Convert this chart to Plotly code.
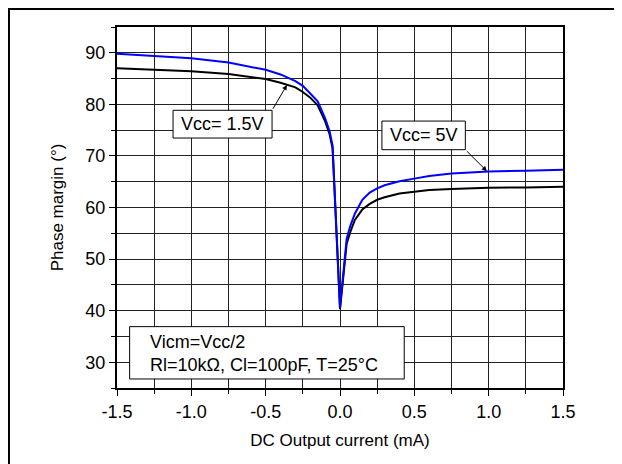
import plotly.graph_objects as go

# DC output current (mA)
x_vals = [-1.5, -1.25, -1.0, -0.75, -0.5, -0.4, -0.3, -0.25, -0.2, -0.15, -0.1, -0.07, -0.05, 0.0,
          0.045, 0.07, 0.1, 0.15, 0.2, 0.25, 0.3, 0.4, 0.5, 0.6, 0.75, 1.0, 1.25, 1.5]

# Phase margin (deg), Vcc = 1.5V (black)
pm_vcc_1v5 = [87.0, 86.7, 86.4, 85.9, 84.9, 84.2, 83.3, 82.4, 81.3, 79.8, 76.7, 74.2, 71.5, 40.3,
              53.0, 55.3, 57.6, 59.6, 60.7, 61.5, 62.0, 62.7, 63.1, 63.4, 63.6, 63.85, 63.9, 64.0]

# Phase margin (deg), Vcc = 5V (blue)
pm_vcc_5v = [89.8, 89.4, 88.95, 88.1, 86.7, 85.8, 84.5, 83.6, 82.2, 80.6, 77.3, 74.8, 72.0, 40.6,
             54.0, 56.5, 58.8, 61.5, 62.9, 63.7, 64.3, 65.1, 65.6, 66.1, 66.6, 67.0, 67.15, 67.3]

x_ticks = [-1.5, -1.0, -0.5, 0.0, 0.5, 1.0, 1.5]
y_ticks = [30, 40, 50, 60, 70, 80, 90]

FONT = "Arial, Liberation Sans, sans-serif"

fig = go.Figure()
fig.add_trace(go.Scatter(x=x_vals, y=pm_vcc_1v5, mode="lines",
                         line=dict(color="black", width=2), name="Vcc= 1.5V"))
fig.add_trace(go.Scatter(x=x_vals, y=pm_vcc_5v, mode="lines",
                         line=dict(color="#0000ff", width=2), name="Vcc= 5V"))

grid_col = "#222222"
fig.update_xaxes(range=[-1.5, 1.5], tickvals=x_ticks, ticktext=[f"{v:.1f}" for v in x_ticks],
                 showgrid=True, gridcolor=grid_col, gridwidth=1,
                 minor=dict(dtick=0.25, tick0=-1.5, showgrid=True, gridcolor=grid_col, gridwidth=1,
                            ticks="outside", ticklen=4, tickcolor="black"),
                 ticks="outside", ticklen=6, tickcolor="black",
                 showline=True, linecolor="black", linewidth=2, mirror=True,
                 zeroline=False,
                 tickfont=dict(family=FONT, size=18, color="black"),
                 title=dict(text="DC Output current (mA)", font=dict(family=FONT, size=17, color="black"),
                            standoff=14))
fig.update_yaxes(range=[25, 95], tickvals=y_ticks,
                 showgrid=True, gridcolor=grid_col, gridwidth=1,
                 minor=dict(dtick=5, tick0=25, showgrid=True, gridcolor=grid_col, gridwidth=1,
                            ticks="outside", ticklen=4, tickcolor="black"),
                 ticks="outside", ticklen=6, tickcolor="black",
                 showline=True, linecolor="black", linewidth=2, mirror=True,
                 zeroline=False,
                 tickfont=dict(family=FONT, size=18, color="black"),
                 title=dict(text="Phase margin (°)", font=dict(family=FONT, size=17, color="black"),
                            standoff=17))

shapes = [
    # outer frame
    dict(type="rect", xref="paper", yref="paper", x0=-0.2422, x1=1.1278, y0=-0.3, y1=1.0499,
         line=dict(color="black", width=2), fillcolor="rgba(0,0,0,0)", layer="below"),
    # label boxes
    dict(type="rect", xref="x", yref="y", x0=-1.123, x1=-0.457, y0=73.47, y1=78.85,
         line=dict(color="black", width=1), fillcolor="white", layer="above"),
    dict(type="rect", xref="x", yref="y", x0=0.282, x1=0.843, y0=71.21, y1=76.76,
         line=dict(color="black", width=1), fillcolor="white", layer="above"),
    dict(type="rect", xref="x", yref="y", x0=-1.415, x1=0.432, y0=26.75, y1=36.9,
         line=dict(color="black", width=1), fillcolor="white", layer="above"),
]

annotations = [
    dict(x=-0.79, y=76.16, xref="x", yref="y", text="Vcc= 1.5V", showarrow=False,
         font=dict(family=FONT, size=18, color="black")),
    dict(x=0.5625, y=73.98, xref="x", yref="y", text="Vcc= 5V", showarrow=False,
         font=dict(family=FONT, size=18, color="black")),
    dict(x=-1.289, y=31.6, xref="x", yref="y", xanchor="left", yanchor="middle", align="left",
         text="Vicm=Vcc/2<br>Rl=10kΩ, Cl=100pF, T=25°C", showarrow=False,
         font=dict(family=FONT, size=18, color="black")),
    # arrows
    dict(x=-0.357, y=83.75, xref="x", yref="y", ax=-0.457, ay=78.85, axref="x", ayref="y",
         text="", showarrow=True, arrowhead=2, arrowsize=1, arrowwidth=1, arrowcolor="black"),
    dict(x=0.988, y=67.05, xref="x", yref="y", ax=0.843, ay=71.21, axref="x", ayref="y",
         text="", showarrow=True, arrowhead=2, arrowsize=1, arrowwidth=1, arrowcolor="black"),
]

fig.update_layout(
    width=614, height=456,
    margin=dict(l=109, r=59, t=19, b=76),
    plot_bgcolor="white", paper_bgcolor="white",
    showlegend=False,
    shapes=shapes, annotations=annotations,
    font=dict(family=FONT, color="black"),
)

fig.write_html("out.html")
